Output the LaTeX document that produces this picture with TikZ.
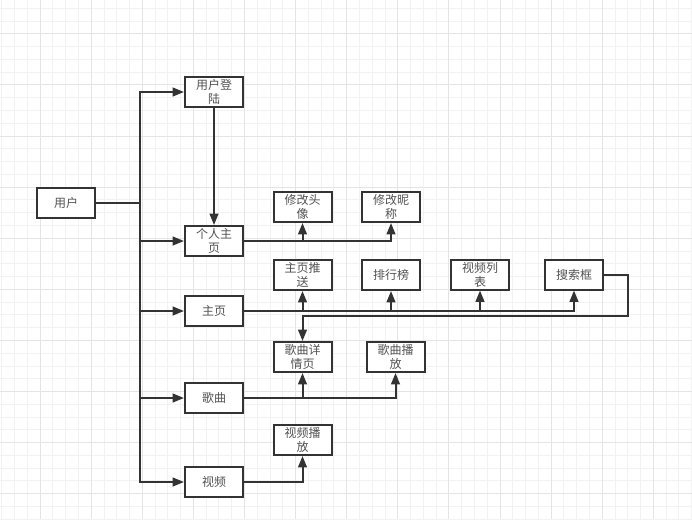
\documentclass[tikz,border=0pt]{standalone}
\usepackage{fontspec}
\setmainfont{Noto Sans CJK SC}
\usetikzlibrary{arrows.meta}
\definecolor{gridminor}{HTML}{F2F2F2}
\definecolor{gridmajor}{HTML}{E4E4E4}
\definecolor{ink}{HTML}{333333}
\tikzset{
  box/.style={draw=ink,line width=1.5pt,fill=white,minimum width=43.5pt,
    minimum height=22.5pt,inner sep=1pt,align=center,text=ink!85},
  link/.style={draw=ink,line width=1.5pt},
  arr/.style={link,-{Triangle[length=8.5pt,width=6.5pt]}}
}
\begin{document}
\begin{tikzpicture}[x=0.75pt,y=-0.75pt,every node/.style={font=\fontsize{9pt}{10.5pt}\selectfont}]
  \useasboundingbox (0,0) rectangle (692,519);
  \fill[white] (0,0) rectangle (692,519);

  % background grid
  \foreach \i in {0,...,54}
    \draw[gridminor,line width=0.75pt] ({1.8+12.775*\i},0) -- ++(0,519);
  \foreach \i in {0,...,40}
    \draw[gridminor,line width=0.75pt] (0,{8.3+12.775*\i}) -- ++(692,0);
  \foreach \i in {0,...,13}
    \draw[gridmajor,line width=0.75pt] ({40.1+51.1*\i},0) -- ++(0,519);
  \foreach \i in {0,...,9}
    \draw[gridmajor,line width=0.75pt] (0,{33.85+51.1*\i}) -- ++(692,0);

  % first column
  \node[box] (user) at (66,203) {用户};

  % second column
  \node[box] (login)   at (214,92)  {用户登\\陆};
  \node[box] (profile) at (214,241) {个人主\\页};
  \node[box] (home)    at (214,311) {主页};
  \node[box] (song)    at (214,398) {歌曲};
  \node[box] (video)   at (214,482) {视频};

  % third row of boxes
  \node[box] (avatar)   at (302.5,207) {修改头\\像};
  \node[box] (nick)     at (391,207)   {修改昵\\称};
  \node[box] (push)     at (302.5,275) {主页推\\送};
  \node[box] (rank)     at (391,275)   {排行榜};
  \node[box] (vlist)    at (480,274.5) {视频列\\表};
  \node[box] (search)   at (574,274.5) {搜索框};
  \node[box] (songinfo) at (302.5,357) {歌曲详\\情页};
  \node[box] (songplay) at (395.5,357) {歌曲播\\放};
  \node[box] (vplay)    at (302.5,440) {视频播\\放};

  % trunk from the user box
  \coordinate (tk) at (140,203);
  \draw[link] (user.east) -- (tk);
  \foreach \n in {login,profile,home,song,video}
    \draw[arr] (tk) |- (\n.west);

  \draw[arr] (login.south) -- (profile.north);

  % profile branch
  \foreach \n in {avatar,nick}
    \draw[arr] (profile.east) -| (\n.south);

  % home branch
  \foreach \n in {push,rank,vlist,search}
    \draw[arr] (home.east) -| (\n.south);
  \coordinate (bend) at (628,316);
  \draw[arr] (search.east) -| (bend) -| (songinfo.north);

  % song branch
  \foreach \n in {songinfo,songplay}
    \draw[arr] (song.east) -| (\n.south);

  % video branch
  \draw[arr] (video.east) -| (vplay.south);
\end{tikzpicture}
\end{document}
